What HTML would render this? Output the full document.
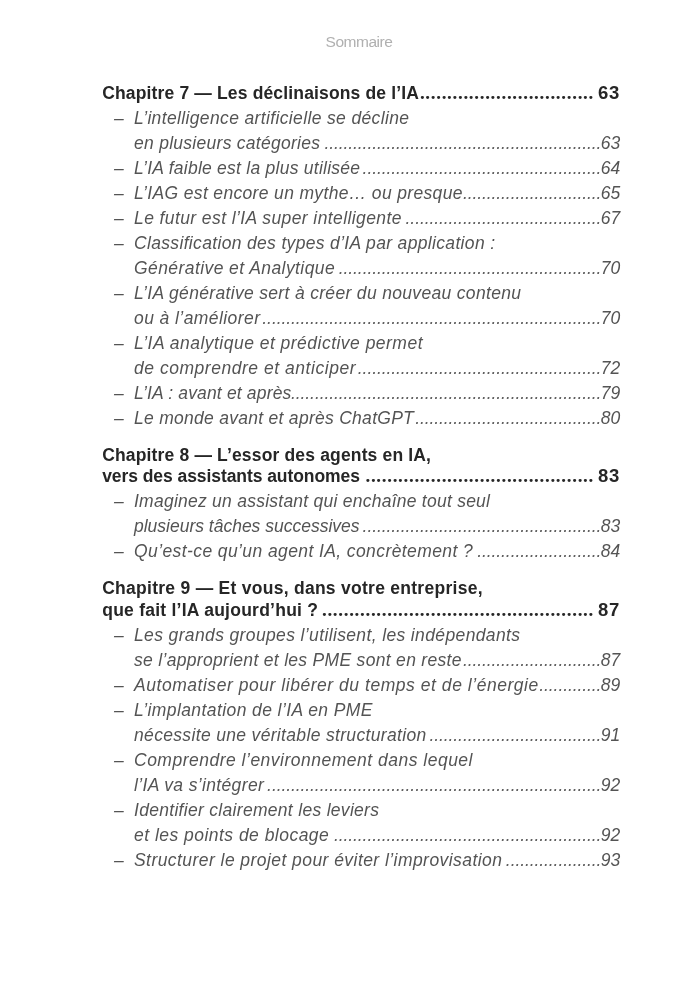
<!DOCTYPE html>
<html lang="fr"><head><meta charset="utf-8"><title>Sommaire</title>
<style>
html,body{margin:0;padding:0;background:#fff}
body{width:700px;height:993px;position:relative;overflow:hidden;font-family:"Liberation Sans",sans-serif;color:#3a3a3a}
.hd{position:absolute;left:0;width:718px;top:32.3px;text-align:center;font-size:15.5px;line-height:20px;color:#b0b0b0;letter-spacing:-0.48px}
.l{position:absolute;left:0;width:700px;height:0;font-size:17.5px;line-height:0}
.l span{position:absolute;top:0;white-space:pre;line-height:0}
.l.h{font-weight:bold;color:#262626}
.l.i{font-style:italic;color:#545454}
.l.h .d{font-family:'Liberation Serif',serif;font-size:19.0px;letter-spacing:0.690px}
.l.i .d{color:#606060;font-size:17.5px;letter-spacing:-0.087px}
.l.i .n{letter-spacing:0}
.l.h .n{font-size:18.5px;letter-spacing:0.8px}
</style></head>
<body>
<div class="hd">Sommaire</div>
<div class="l h" style="top:93px"><span class="t" style="left:102.2px;letter-spacing:0.155px">Chapitre 7 — Les déclinaisons de l’IA</span><span class="d" style="left:419.88px">................................</span><span class="n" style="right:79.9px">63</span></div>
<div class="l i" style="top:118px"><span class="dash" style="left:114.0px">–</span><span class="t" style="left:134.0px;letter-spacing:0.360px">L’intelligence artificielle se décline</span></div>
<div class="l i" style="top:143px"><span class="t" style="left:134.0px;letter-spacing:0.274px">en plusieurs catégories</span><span class="d" style="left:324.42px">..........................................................</span><span class="n" style="right:79.8px">63</span></div>
<div class="l i" style="top:168px"><span class="dash" style="left:114.0px">–</span><span class="t" style="left:134.0px;letter-spacing:0.251px">L’IA faible est la plus utilisée</span><span class="d" style="left:362.62px">..................................................</span><span class="n" style="right:79.8px">64</span></div>
<div class="l i" style="top:193px"><span class="dash" style="left:114.0px">–</span><span class="t" style="left:134.0px;letter-spacing:0.343px">L’IAG est encore un mythe… ou presque</span><span class="d" style="left:462.90px">.............................</span><span class="n" style="right:79.8px">65</span></div>
<div class="l i" style="top:218px"><span class="dash" style="left:114.0px">–</span><span class="t" style="left:134.0px;letter-spacing:0.407px">Le futur est l’IA super intelligente</span><span class="d" style="left:405.60px">.........................................</span><span class="n" style="right:79.8px">67</span></div>
<div class="l i" style="top:243px"><span class="dash" style="left:114.0px">–</span><span class="t" style="left:134.0px;letter-spacing:0.334px">Classification des types d’IA par application :</span></div>
<div class="l i" style="top:268px"><span class="t" style="left:134.0px;letter-spacing:0.422px">Générative et Analytique</span><span class="d" style="left:338.75px">.......................................................</span><span class="n" style="right:79.8px">70</span></div>
<div class="l i" style="top:293px"><span class="dash" style="left:114.0px">–</span><span class="t" style="left:134.0px;letter-spacing:0.327px">L’IA générative sert à créer du nouveau contenu</span></div>
<div class="l i" style="top:318px"><span class="t" style="left:134.0px;letter-spacing:0.424px">ou à l’améliorer</span><span class="d" style="left:262.35px">.......................................................................</span><span class="n" style="right:79.8px">70</span></div>
<div class="l i" style="top:343px"><span class="dash" style="left:114.0px">–</span><span class="t" style="left:134.0px;letter-spacing:0.479px">L’IA analytique et prédictive permet</span></div>
<div class="l i" style="top:368px"><span class="t" style="left:134.0px;letter-spacing:0.533px">de comprendre et anticiper</span><span class="d" style="left:357.85px">...................................................</span><span class="n" style="right:79.8px">72</span></div>
<div class="l i" style="top:393px"><span class="dash" style="left:114.0px">–</span><span class="t" style="left:134.0px;letter-spacing:0.163px">L’IA : avant et après</span><span class="d" style="left:291.00px">.................................................................</span><span class="n" style="right:79.8px">79</span></div>
<div class="l i" style="top:418px"><span class="dash" style="left:114.0px">–</span><span class="t" style="left:134.0px;letter-spacing:0.280px">Le monde avant et après ChatGPT</span><span class="d" style="left:415.15px">.......................................</span><span class="n" style="right:79.8px">80</span></div>
<div class="l h" style="top:455px"><span class="t" style="left:102.2px;letter-spacing:0.160px">Chapitre 8 — L’essor des agents en IA,</span></div>
<div class="l h" style="top:476px"><span class="t" style="left:102.2px;letter-spacing:-0.068px">vers des assistants autonomes</span><span class="d" style="left:365.48px">..........................................</span><span class="n" style="right:79.9px">83</span></div>
<div class="l i" style="top:501px"><span class="dash" style="left:114.0px">–</span><span class="t" style="left:134.0px;letter-spacing:0.247px">Imaginez un assistant qui enchaîne tout seul</span></div>
<div class="l i" style="top:526px"><span class="t" style="left:134.0px;letter-spacing:-0.006px">plusieurs tâches successives</span><span class="d" style="left:362.62px">..................................................</span><span class="n" style="right:79.8px">83</span></div>
<div class="l i" style="top:551px"><span class="dash" style="left:114.0px">–</span><span class="t" style="left:134.0px;letter-spacing:0.403px">Qu’est-ce qu’un agent IA, concrètement ?</span><span class="d" style="left:477.22px">..........................</span><span class="n" style="right:79.8px">84</span></div>
<div class="l h" style="top:588px"><span class="t" style="left:102.2px;letter-spacing:0.273px">Chapitre 9 — Et vous, dans votre entreprise,</span></div>
<div class="l h" style="top:610px"><span class="t" style="left:102.2px;letter-spacing:0.248px">que fait l’IA aujourd’hui ?</span><span class="d" style="left:321.96px">..................................................</span><span class="n" style="right:79.9px">87</span></div>
<div class="l i" style="top:635px"><span class="dash" style="left:114.0px">–</span><span class="t" style="left:134.0px;letter-spacing:0.368px">Les grands groupes l’utilisent, les indépendants</span></div>
<div class="l i" style="top:660px"><span class="t" style="left:134.0px;letter-spacing:0.308px">se l’approprient et les PME sont en reste</span><span class="d" style="left:462.90px">.............................</span><span class="n" style="right:79.8px">87</span></div>
<div class="l i" style="top:685px"><span class="dash" style="left:114.0px">–</span><span class="t" style="left:134.0px;letter-spacing:0.539px">Automatiser pour libérer du temps et de l’énergie</span><span class="d" style="left:539.30px">.............</span><span class="n" style="right:79.8px">89</span></div>
<div class="l i" style="top:710px"><span class="dash" style="left:114.0px">–</span><span class="t" style="left:134.0px;letter-spacing:0.411px">L’implantation de l’IA en PME</span></div>
<div class="l i" style="top:735px"><span class="t" style="left:134.0px;letter-spacing:0.335px">nécessite une véritable structuration</span><span class="d" style="left:429.47px">....................................</span><span class="n" style="right:79.8px">91</span></div>
<div class="l i" style="top:760px"><span class="dash" style="left:114.0px">–</span><span class="t" style="left:134.0px;letter-spacing:0.498px">Comprendre l’environnement dans lequel</span></div>
<div class="l i" style="top:785px"><span class="t" style="left:134.0px;letter-spacing:0.350px">l’IA va s’intégrer</span><span class="d" style="left:267.12px">......................................................................</span><span class="n" style="right:79.8px">92</span></div>
<div class="l i" style="top:810px"><span class="dash" style="left:114.0px">–</span><span class="t" style="left:134.0px;letter-spacing:0.301px">Identifier clairement les leviers</span></div>
<div class="l i" style="top:835px"><span class="t" style="left:134.0px;letter-spacing:0.474px">et les points de blocage</span><span class="d" style="left:333.97px">........................................................</span><span class="n" style="right:79.8px">92</span></div>
<div class="l i" style="top:860px"><span class="dash" style="left:114.0px">–</span><span class="t" style="left:134.0px;letter-spacing:0.442px">Structurer le projet pour éviter l’improvisation</span><span class="d" style="left:505.87px">....................</span><span class="n" style="right:79.8px">93</span></div>

</body></html>
